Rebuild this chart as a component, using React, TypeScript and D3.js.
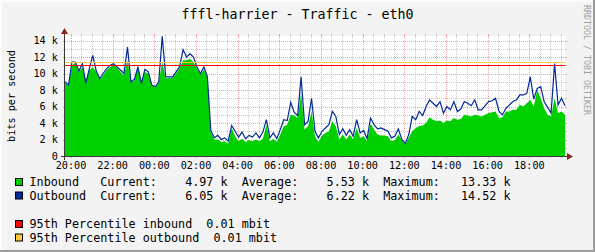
import React from 'react';
import * as d3 from 'd3';

const W = 595;
const H = 252;
const title = 'fffl-harrier - Traffic - eth0';
const yAxisTitle = 'bits per second';
const watermark = 'RRDTOOL / TOBI OETIKER';

// samples every 10 minutes, values in k (bits per second)
const stepMinutes = 10;
const inbound = [
  8.9, 8.5, 11.0, 11.3, 10.2, 10.8, 9.2, 10.4, 10.8, 10.2,
  9.3, 9.8, 10.4, 10.8, 11.1, 10.7, 10.2, 9.8, 11.6, 9.0,
  9.1, 11.0, 9.0, 10.2, 10.0, 8.6, 8.3, 8.9, 11.4, 9.4,
  9.5, 9.5, 10.0, 10.6, 11.6, 11.6, 11.8, 11.4, 10.6, 9.9,
  10.5, 9.5, 2.9, 2.0, 2.0, 1.7, 1.8, 1.5, 3.4, 2.4,
  1.8, 2.1, 1.7, 1.9, 1.8, 2.0, 1.8, 2.1, 3.8, 1.8,
  2.1, 1.7, 2.6, 3.6, 3.8, 5.0, 4.9, 4.6, 7.6, 3.2,
  3.6, 5.4, 2.4, 1.7, 2.5, 2.8, 3.0, 4.2, 3.6, 2.0,
  2.6, 2.0, 2.6, 2.0, 3.4, 2.2, 2.4, 1.8, 3.9, 3.2,
  2.6, 2.5, 2.5, 2.4, 1.8, 1.9, 2.6, 1.9, 1.4, 2.2,
  3.0, 3.4, 3.6, 3.7, 4.0, 4.7, 4.4, 4.2, 4.3, 4.0,
  4.3, 4.2, 4.6, 4.4, 4.5, 5.0, 4.9, 4.8, 5.0, 4.9,
  4.8, 5.0, 5.2, 5.3, 5.4, 4.6, 4.7, 5.4, 5.4, 5.6,
  5.6, 6.2, 6.0, 6.4, 6.8, 6.0, 8.0, 7.0, 5.8, 5.0,
  4.8, 7.0, 5.2, 5.4, 5.0,
];
const outbound = [
  9.0, 8.6, 11.4, 11.4, 10.3, 11.2, 8.8, 10.6, 12.2, 10.3,
  9.4, 10.0, 10.6, 11.0, 11.2, 10.8, 10.4, 10.0, 13.2, 9.0,
  9.3, 10.8, 8.8, 10.5, 10.2, 8.6, 8.4, 9.0, 14.5, 9.6,
  9.6, 9.6, 10.2, 10.8, 12.9, 12.0, 12.4, 12.0, 10.8, 10.0,
  10.8, 9.6, 3.1, 2.2, 2.5, 2.0, 2.2, 1.8, 3.7, 3.0,
  2.3, 2.9, 2.1, 2.5, 2.3, 2.8, 2.2, 2.9, 4.4, 2.2,
  2.8, 2.1, 3.2, 4.4, 4.3, 6.5, 5.3, 4.9, 9.6, 3.8,
  4.2, 7.0, 3.0, 2.2, 3.0, 3.4, 3.8, 5.4, 4.8, 2.6,
  3.3, 2.5, 3.2, 2.4, 4.4, 2.8, 3.1, 2.1, 4.6, 3.8,
  3.3, 3.4, 3.2, 3.0, 2.2, 2.4, 3.3, 2.0, 1.5, 2.6,
  4.8, 4.4, 5.4, 4.9, 6.0, 6.8, 6.4, 6.0, 6.6, 5.2,
  6.0, 5.6, 6.6, 5.4, 5.7, 6.6, 6.4, 6.1, 6.8, 5.6,
  5.6, 6.1, 6.6, 6.7, 7.0, 5.4, 5.0, 5.8, 6.2, 6.6,
  6.8, 7.4, 7.4, 7.6, 9.6, 6.9, 8.2, 8.4, 6.6, 5.9,
  5.2, 11.2, 6.2, 7.0, 6.1,
];

const percentileNames = ['95th Percentile inbound', '95th Percentile outbound'];
const percentileValuesK = [11.03, 11.36];
const percentileLabels = [0.01, 0.01];
const percentileColors = ['#FF0000', '#FFC73B'];

const seriesNames = ['Inbound', 'Outbound'];
const seriesColors = ['#00CF00', '#002A97'];
const currentVals = [4.97, 6.05];
const averageVals = [5.53, 6.22];
const maximumVals = [13.33, 14.52];

const yMax = 14.55;
const yTickValues = [0, 2, 4, 6, 8, 10, 12, 14];
const yMinorValues = [1, 3, 5, 7, 9, 11, 13];
const xTickFormat = '%H:%M';

const MONO = "'DejaVu Sans Mono', monospace";

export default function App() {
  const x0 = 65;
  const x1 = 565;
  const yTop = 36;
  const yBot = 156;
  const start = new Date(2024, 0, 1, 19, 42, 43);
  const end = new Date(start.getTime() + 24 * 3600 * 1000);
  const times = inbound.map((_, i) => new Date(start.getTime() + i * stepMinutes * 60000));

  const x = d3.scaleTime().domain([start, end]).range([x0, x1]);
  const y = d3.scaleLinear().domain([0, yMax]).range([yBot, yTop]);

  const majorX = d3.timeHour.every(2)!.range(start, end);
  const majorSet = new Set(majorX.map((d) => d.getTime()));
  const minorX = d3.timeMinute.every(30)!.range(start, end).filter((d) => !majorSet.has(d.getTime()));
  const fmt = d3.timeFormat(xTickFormat);

  const area = d3
    .area<number>()
    .x((_, i) => x(times[i]))
    .y0(y(0))
    .y1((d) => y(d));
  const line = d3
    .line<number>()
    .x((_, i) => x(times[i]))
    .y((d) => y(d));

  const gridGray = '#C9C9C9';
  const gridRed = '#F2A0A0';
  const cx = (v: number) => Math.round(v) + 0.5;

  const legendRows = seriesNames.map(
    (n, i) =>
      n.padEnd(10) +
      'Current:' + currentVals[i].toFixed(2).padStart(8) + ' k  ' +
      'Average:' + averageVals[i].toFixed(2).padStart(8) + ' k  ' +
      'Maximum:' + maximumVals[i].toFixed(2).padStart(8) + ' k'
  );
  const pctRows = percentileNames.map((n, i) => n + '  ' + percentileLabels[i].toFixed(2) + ' mbit');

  const legendY = [186, 199.5];
  const pctY = [228, 241.5];

  return (
    <svg
      width={W}
      height={H}
      style={{ position: 'absolute', left: 0, top: 0, display: 'block' }}
      xmlns="http://www.w3.org/2000/svg"
    >
      <rect x={0} y={0} width={W} height={H} fill="#F3F3F3" />
      {/* frame */}
      <rect x={0} y={0} width={W} height={2} fill="#FCFCFC" />
      <rect x={0} y={0} width={2} height={H} fill="#FCFCFC" />
      <rect x={0} y={H - 2} width={W} height={2} fill="#9C9C9C" />
      <rect x={W - 2} y={0} width={2} height={H} fill="#9C9C9C" />

      <text x={297.5} y={19} textAnchor="middle" fontFamily={MONO} fontSize={13.3} fill="#000">
        {title}
      </text>
      <text
        transform="translate(583.5,5) rotate(90)"
        fontFamily={MONO}
        fontSize={8.3}
        fill="#A0A0A0"
      >
        {watermark}
      </text>

      {/* canvas */}
      <rect x={x0} y={yTop} width={x1 - x0} height={yBot - yTop} fill="#FFFFFF" />

      {/* grid */}
      <g shapeRendering="crispEdges">
        {yMinorValues.map((v) => (
          <g key={'ym' + v}>
            <line x1={x0} x2={x1} y1={cx(y(v))} y2={cx(y(v))} stroke={gridGray} strokeDasharray="1,1" />
            <line x1={x0 - 2} x2={x0} y1={cx(y(v))} y2={cx(y(v))} stroke={gridGray} />
            <line x1={x1} x2={x1 + 2} y1={cx(y(v))} y2={cx(y(v))} stroke={gridGray} />
          </g>
        ))}
        {minorX.map((d) => (
          <g key={'xm' + d.getTime()}>
            <line x1={cx(x(d))} x2={cx(x(d))} y1={yTop} y2={yBot} stroke={gridGray} strokeDasharray="1,1" />
            <line x1={cx(x(d))} x2={cx(x(d))} y1={yBot} y2={yBot + 2} stroke={gridGray} />
            <line x1={cx(x(d))} x2={cx(x(d))} y1={yTop - 2} y2={yTop} stroke={gridGray} />
          </g>
        ))}
        {yTickValues.map((v) => (
          <g key={'yM' + v}>
            <line x1={x0} x2={x1} y1={cx(y(v))} y2={cx(y(v))} stroke={gridRed} strokeDasharray="1,1" />
            <line x1={x0 - 2} x2={x0} y1={cx(y(v))} y2={cx(y(v))} stroke={gridRed} />
            <line x1={x1} x2={x1 + 2} y1={cx(y(v))} y2={cx(y(v))} stroke={gridRed} />
          </g>
        ))}
        {majorX.map((d) => (
          <g key={'xM' + d.getTime()}>
            <line x1={cx(x(d))} x2={cx(x(d))} y1={yTop} y2={yBot} stroke={gridRed} strokeDasharray="1,1" />
            <line x1={cx(x(d))} x2={cx(x(d))} y1={yBot} y2={yBot + 2} stroke={gridRed} />
            <line x1={cx(x(d))} x2={cx(x(d))} y1={yTop - 2} y2={yTop} stroke={gridRed} />
          </g>
        ))}
      </g>

      {/* data */}
      <path d={area(inbound) || ''} fill={seriesColors[0]} />
      <path d={line(outbound) || ''} fill="none" stroke={seriesColors[1]} strokeWidth={1.2} />
      {percentileValuesK.map((v, i) => (
        <line
          key={'p' + i}
          x1={x0}
          x2={x1}
          y1={cx(y(v))}
          y2={cx(y(v))}
          stroke={percentileColors[i]}
          strokeWidth={1}
          shapeRendering="crispEdges"
        />
      ))}

      {/* axes */}
      <g shapeRendering="crispEdges">
        <line x1={x0 - 4} x2={x1 + 4} y1={yBot + 0.5} y2={yBot + 0.5} stroke="#3A3A3A" />
        <line x1={x0 - 0.5} x2={x0 - 0.5} y1={yBot + 4} y2={yTop - 4} stroke="#3A3A3A" />
      </g>
      <path
        d={`M${x1 + 2},${yBot + 0.5 - 3.5} L${x1 + 2},${yBot + 0.5 + 3.5} L${x1 + 8},${yBot + 0.5} Z`}
        fill="#8B2323"
      />
      <path
        d={`M${x0 - 0.5 - 3.5},${yTop - 2} L${x0 - 0.5 + 3.5},${yTop - 2} L${x0 - 0.5},${yTop - 8} Z`}
        fill="#8B2323"
      />

      {/* axis labels */}
      {yTickValues.map((v) => (
        <text
          key={'yl' + v}
          x={58}
          y={y(v) + 3.8}
          textAnchor="end"
          fontFamily={MONO}
          fontSize={10.2}
          fill="#000"
        >
          {v === 0 ? '0' : `${v} k`}
        </text>
      ))}
      {majorX.map((d) => (
        <text
          key={'xl' + d.getTime()}
          x={x(d)}
          y={168.5}
          textAnchor="middle"
          fontFamily={MONO}
          fontSize={10.2}
          fill="#000"
        >
          {fmt(d)}
        </text>
      ))}
      <text
        transform="translate(14.5,96) rotate(-90)"
        textAnchor="middle"
        fontFamily={MONO}
        fontSize={10.2}
        fill="#000"
      >
        {yAxisTitle}
      </text>

      {/* legend */}
      {legendRows.map((t, i) => (
        <g key={'lg' + i}>
          <rect x={15.5} y={legendY[i] - 7.5} width={7} height={7} fill={seriesColors[i]} stroke="#000" />
          <text
            x={29.5}
            y={legendY[i]}
            fontFamily={MONO}
            fontSize={11.75}
            fill="#000"
            xmlSpace="preserve"
            style={{ whiteSpace: 'pre' }}
          >
            {t}
          </text>
        </g>
      ))}
      {pctRows.map((t, i) => (
        <g key={'pl' + i}>
          <rect x={15.5} y={pctY[i] - 7.5} width={7} height={7} fill={percentileColors[i]} stroke="#000" />
          <text
            x={29.5}
            y={pctY[i]}
            fontFamily={MONO}
            fontSize={11.75}
            fill="#000"
            xmlSpace="preserve"
            style={{ whiteSpace: 'pre' }}
          >
            {t}
          </text>
        </g>
      ))}
    </svg>
  );
}
